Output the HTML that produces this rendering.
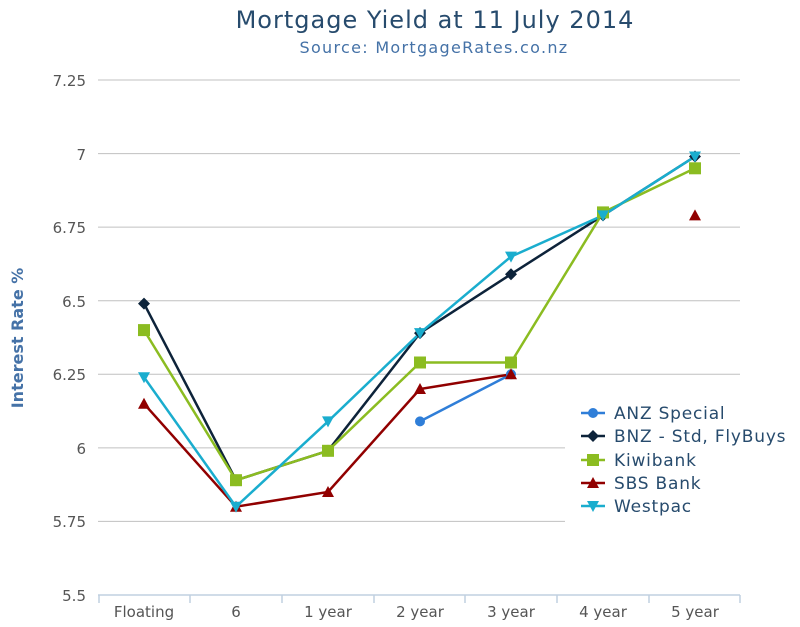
<!DOCTYPE html>
<html><head><meta charset="utf-8"><style>body{margin:0;background:#fff}svg{display:block;font-family:"DejaVu Sans","Liberation Sans",sans-serif}</style></head><body>
<svg width="800" height="627" viewBox="0 0 800 627">
<text x="435" y="28" text-anchor="middle" font-size="24" letter-spacing="1" fill="#274b6d">Mortgage Yield at 11 July 2014</text>
<text x="434" y="53" text-anchor="middle" font-size="16" letter-spacing="1.3" fill="#4572a7">Source: MortgageRates.co.nz</text>
<g stroke="#c0c0c0" stroke-width="1">
<line x1="98" x2="740" y1="80" y2="80"/><line x1="98" x2="740" y1="153.6" y2="153.6"/><line x1="98" x2="740" y1="227.1" y2="227.1"/><line x1="98" x2="740" y1="300.7" y2="300.7"/><line x1="98" x2="740" y1="374.3" y2="374.3"/><line x1="98" x2="740" y1="447.9" y2="447.9"/><line x1="98" x2="740" y1="521.4" y2="521.4"/>
</g>
<g stroke="#c0d0e0" stroke-width="1.5"><line x1="98" x2="740" y1="595" y2="595"/>
<line x1="99" x2="99" y1="595" y2="603"/><line x1="190" x2="190" y1="595" y2="603"/><line x1="282" x2="282" y1="595" y2="603"/><line x1="374" x2="374" y1="595" y2="603"/><line x1="465" x2="465" y1="595" y2="603"/><line x1="557" x2="557" y1="595" y2="603"/><line x1="649" x2="649" y1="595" y2="603"/><line x1="740" x2="740" y1="595" y2="603"/></g>
<g font-size="15" fill="#555" text-anchor="end">
<text x="86" y="86">7.25</text><text x="86" y="160">7</text><text x="86" y="233">6.75</text><text x="86" y="307">6.5</text><text x="86" y="380">6.25</text><text x="86" y="454">6</text><text x="86" y="527">5.75</text><text x="86" y="601">5.5</text></g>
<g font-size="15" fill="#555" text-anchor="middle">
<text x="144" y="617">Floating</text><text x="236" y="617">6</text><text x="328" y="617">1 year</text><text x="420" y="617">2 year</text><text x="511" y="617">3 year</text><text x="603" y="617">4 year</text><text x="695" y="617">5 year</text></g>
<text transform="translate(23,338) rotate(-90)" text-anchor="middle" font-size="16" font-weight="bold" fill="#4572a7">Interest Rate %</text>
<rect x="565" y="395" width="235" height="127" fill="#fff"/>
<g fill="none" stroke-width="2.5">
<polyline stroke="#2f7ed8" points="420,421.4 511,374.3"/>
<polyline stroke="#0d233a" points="144,303.6 236,480.2 328,450.8 420,333.1 511,274.2 603,215.4 695,156.5"/>
<polyline stroke="#8bbc21" points="144,330.1 236,480.2 328,450.8 420,362.5 511,362.5 603,212.4 695,168.3"/>
<polyline stroke="#910000" points="144,403.7 236,506.7 328,492 420,389 511,374.3"/>
<polyline stroke="#1aadce" points="144,377.2 236,506.7 328,421.4 420,333.1 511,256.6 603,215.4 695,156.5"/>
</g>
<g fill="#2f7ed8"><circle cx="420" cy="421.4" r="5"/><circle cx="511" cy="374.3" r="5"/></g>
<g fill="#0d233a">
<path d="M144 297.6l6 6-6 6-6-6z"/><path d="M236 474.2l6 6-6 6-6-6z"/><path d="M328 444.8l6 6-6 6-6-6z"/><path d="M420 327.1l6 6-6 6-6-6z"/><path d="M511 268.2l6 6-6 6-6-6z"/><path d="M603 209.4l6 6-6 6-6-6z"/><path d="M695 150.5l6 6-6 6-6-6z"/></g>
<g fill="#8bbc21">
<rect x="138" y="324.1" width="12" height="12"/><rect x="230" y="474.2" width="12" height="12"/><rect x="322" y="444.8" width="12" height="12"/><rect x="414" y="356.5" width="12" height="12"/><rect x="505" y="356.5" width="12" height="12"/><rect x="597" y="206.4" width="12" height="12"/><rect x="689" y="162.3" width="12" height="12"/></g>
<g fill="#910000">
<path d="M144 397.7l6 11h-12z"/><path d="M236 500.7l6 11h-12z"/><path d="M328 486l6 11h-12z"/><path d="M420 383l6 11h-12z"/><path d="M511 368.3l6 11h-12z"/><path d="M695 209.4l6 11h-12z"/></g>
<g fill="#1aadce">
<path d="M144 383.2l6-11h-12z"/><path d="M236 512.7l6-11h-12z"/><path d="M328 427.4l6-11h-12z"/><path d="M420 339.1l6-11h-12z"/><path d="M511 262.6l6-11h-12z"/><path d="M603 221.4l6-11h-12z"/><path d="M695 162.5l6-11h-12z"/></g>
<g stroke-width="2.5"><line x1="581" x2="605" y1="413" y2="413" stroke="#2f7ed8"/><line x1="581" x2="605" y1="436" y2="436" stroke="#0d233a"/><line x1="581" x2="605" y1="460" y2="460" stroke="#8bbc21"/><line x1="581" x2="605" y1="483" y2="483" stroke="#910000"/><line x1="581" x2="605" y1="506" y2="506" stroke="#1aadce"/></g>
<circle cx="593" cy="413" r="5" fill="#2f7ed8"/>
<path d="M593 430l6 6-6 6-6-6z" fill="#0d233a"/>
<rect x="587" y="454" width="12" height="12" fill="#8bbc21"/>
<path d="M593 477l6 11h-12z" fill="#910000"/>
<path d="M593 512l6-11h-12z" fill="#1aadce"/>
<g font-size="17" letter-spacing="0.8" fill="#274b6d">
<text x="614" y="419">ANZ Special</text><text x="614" y="442">BNZ - Std, FlyBuys</text><text x="614" y="466">Kiwibank</text><text x="614" y="489">SBS Bank</text><text x="614" y="512">Westpac</text></g>
</svg>
</body></html>
